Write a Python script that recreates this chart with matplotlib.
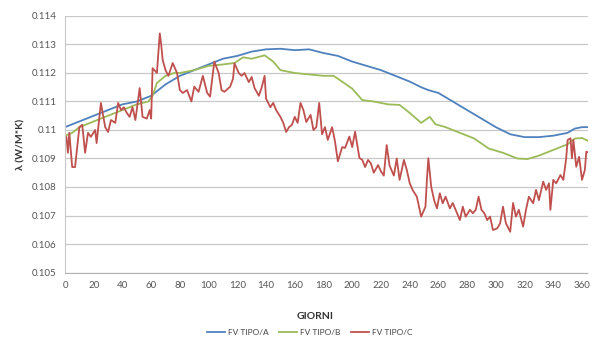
import matplotlib
matplotlib.use("Agg")
import matplotlib.pyplot as plt
import numpy as np

# ---- data ----
blue_days = [0, 10, 20, 30, 40, 50, 60, 70, 80, 90, 100, 110, 120, 130, 140, 150, 160, 170,
             180, 190, 200, 210, 220, 230, 240, 248, 253, 260, 270, 280, 290, 300, 310, 320,
             330, 340, 350, 355, 360, 365]
blue_vals = [0.1101, 0.1103, 0.1105, 0.1107, 0.1109, 0.1110, 0.1112, 0.1116, 0.1119, 0.1121,
             0.1123, 0.1125, 0.1126, 0.11275, 0.11283, 0.11285, 0.1128, 0.11283, 0.1127,
             0.1126, 0.1124, 0.11225, 0.1121, 0.1119, 0.1117, 0.1115, 0.1114, 0.1113, 0.1110,
             0.1107, 0.1104, 0.1101, 0.10985, 0.10975, 0.10975, 0.1098, 0.1099, 0.11005,
             0.1101, 0.1101]

green_days = [0, 5, 10, 20, 30, 40, 50, 58, 61, 64, 70, 76, 80, 90, 100, 110, 118, 124, 130,
              139, 145, 150, 160, 170, 180, 187, 190, 200, 207, 215, 225, 233, 240, 248, 254,
              258, 265, 275, 285, 295, 305, 315, 322, 330, 340, 350, 355, 360, 365]
green_vals = [0.1098, 0.1099, 0.1101, 0.1103, 0.1105, 0.1107, 0.1109, 0.1110, 0.1112, 0.11165,
              0.1119, 0.1120, 0.1120, 0.1121, 0.11225, 0.1123, 0.11235, 0.11255, 0.1125,
              0.11262, 0.1124, 0.1121, 0.1120, 0.11195, 0.1119, 0.1119, 0.1118, 0.11145,
              0.11105, 0.1110, 0.1109, 0.11088, 0.1106, 0.11025, 0.11046, 0.1102, 0.1101,
              0.1099, 0.1097, 0.10935, 0.1092, 0.1090, 0.10898, 0.1091, 0.1093, 0.1095,
              0.1097, 0.10972, 0.1096]

red_days = [0, 1, 2, 3, 5, 7, 10, 12, 14, 16, 18, 21, 22, 25, 28, 30, 32, 35, 37, 39, 41, 43,
            45, 47, 49, 52, 54, 57, 59, 60, 61, 64, 66, 67, 68, 70, 72, 75, 78, 80, 82, 85,
            88, 90, 93, 96, 99, 101, 104, 107, 109, 111, 115, 117, 118, 121, 123, 125, 128,
            130, 132, 135, 137, 139, 140, 143, 145, 147, 150, 152, 154, 156, 158, 160, 162,
            164, 166, 168, 171, 173, 175, 177, 179, 181, 183, 186, 188, 190, 193, 195, 198,
            200, 202, 205, 207, 209, 211, 213, 215, 218, 220, 222, 224, 226, 229, 231, 233,
            236, 238, 240, 242, 245, 247, 248, 251, 252, 253, 255, 257, 259, 261, 263, 265,
            268, 270, 272, 275, 277, 279, 282, 284, 286, 288, 290, 292, 294, 296, 298, 301,
            303, 305, 307, 310, 312, 314, 316, 319, 321, 323, 326, 328, 330, 333, 335, 337,
            338, 340, 342, 345, 347, 349, 350, 352, 353, 354, 356, 358, 360, 362, 363, 365]
red_vals = [0.1096, 0.10976, 0.1092, 0.1099, 0.1087, 0.1087, 0.1101, 0.11018, 0.1092, 0.1099,
            0.10976, 0.1100, 0.10954, 0.11095, 0.1101, 0.10993, 0.11035, 0.11025, 0.11095,
            0.1107, 0.1108, 0.1106, 0.11046, 0.1108, 0.11035, 0.11147, 0.11046, 0.1104,
            0.1107, 0.1104, 0.11217, 0.1120, 0.11339, 0.1130, 0.11246, 0.1121, 0.1119,
            0.11235, 0.1120, 0.1114, 0.1113, 0.1114, 0.1110, 0.11152, 0.11134, 0.1119,
            0.1113, 0.11117, 0.1124, 0.1120, 0.1114, 0.11134, 0.11152, 0.1118, 0.11234,
            0.1120, 0.1119, 0.1120, 0.11168, 0.11186, 0.11147, 0.1112, 0.1115, 0.1119,
            0.1111, 0.1108, 0.11095, 0.1107, 0.11046, 0.11025, 0.10993, 0.1101, 0.11018,
            0.11046, 0.11025, 0.11095, 0.1107, 0.11028, 0.11053, 0.1100, 0.1101, 0.11095,
            0.10985, 0.1101, 0.10965, 0.1101, 0.1096, 0.1089, 0.1094, 0.10937, 0.10977,
            0.1094, 0.10994, 0.10902, 0.10895, 0.1087, 0.10895, 0.10883, 0.1085, 0.10877,
            0.10855, 0.1084, 0.10947, 0.10875, 0.1084, 0.109, 0.10825, 0.10895, 0.1086,
            0.10814, 0.1079, 0.10766, 0.1072, 0.10696, 0.10731, 0.10825, 0.10901, 0.10801,
            0.10754, 0.10725, 0.10778, 0.10743, 0.10766, 0.10725, 0.10744, 0.1072, 0.10684,
            0.10731, 0.10696, 0.1072, 0.10708, 0.1072, 0.10766, 0.1072, 0.10708, 0.10684,
            0.10696, 0.10649, 0.10655, 0.10673, 0.10731, 0.10673, 0.10643, 0.10744, 0.10696,
            0.1072, 0.10661, 0.1072, 0.10766, 0.10743, 0.1079, 0.10754, 0.10819, 0.1079,
            0.10813, 0.1072, 0.10825, 0.10813, 0.10842, 0.10825, 0.10901, 0.10965, 0.10971,
            0.10901, 0.10965, 0.10871, 0.10906, 0.10825, 0.1086, 0.10924, 0.1092]

series_labels = ["FV TIPO/A", "FV TIPO/B", "FV TIPO/C"]
x_ticks = list(range(0, 361, 20))
y_ticks = [0.105, 0.106, 0.107, 0.108, 0.109, 0.110, 0.111, 0.112, 0.113, 0.114]
y_tick_labels = ["0.105", "0.106", "0.107", "0.108", "0.109", "0.11", "0.111", "0.112",
                 "0.113", "0.114"]

# ---- plot ----
plt.rcParams['font.family'] = ['Lato', 'DejaVu Sans']
fig = plt.figure(figsize=(5.92, 3.40), dpi=100)
ax = fig.add_axes([0.1098, 0.1985, 0.883, 0.7545])

colors = ["#4F81BD", "#9BBB59", "#C0504D"]
ax.plot(blue_days, blue_vals, color=colors[0], lw=1.3, label=series_labels[0])
ax.plot(green_days, green_vals, color=colors[1], lw=1.3, label=series_labels[1])
ax.plot(red_days, red_vals, color=colors[2], lw=1.3, label=series_labels[2])

ax.set_xlim(0, 364)
ax.set_ylim(0.105, 0.114)
ax.set_xticks(x_ticks)
ax.set_yticks(y_ticks)
ax.set_yticklabels(y_tick_labels)
ax.tick_params(axis='both', labelsize=7, colors='#555555', length=0, pad=6)
ax.grid(axis='y', color='#c8c8c8', lw=0.9)
ax.set_axisbelow(True)
for s in ['top', 'right']:
    ax.spines[s].set_visible(False)
ax.spines['left'].set_color('#c8c8c8')
ax.spines['bottom'].set_color('#b0b0b0')
ax.spines['bottom'].set_linestyle((0, (2, 1)))

fig.text(0.035, 0.576, "λ (W/M*K)", rotation=90, ha='center', va='center',
         fontsize=7.5, fontweight='bold', color='#333333')
fig.text(0.532, 0.069, "GIORNI", ha='center', va='center', fontsize=7.5,
         fontweight='bold', color='#333333')
fig.legend(loc='center', bbox_to_anchor=(0.523, 0.022), ncol=3, frameon=False,
           fontsize=6, handlelength=2.2, columnspacing=1.3, handletextpad=0.3,
           labelcolor='#444444')

fig.savefig("out.png", dpi=100)
